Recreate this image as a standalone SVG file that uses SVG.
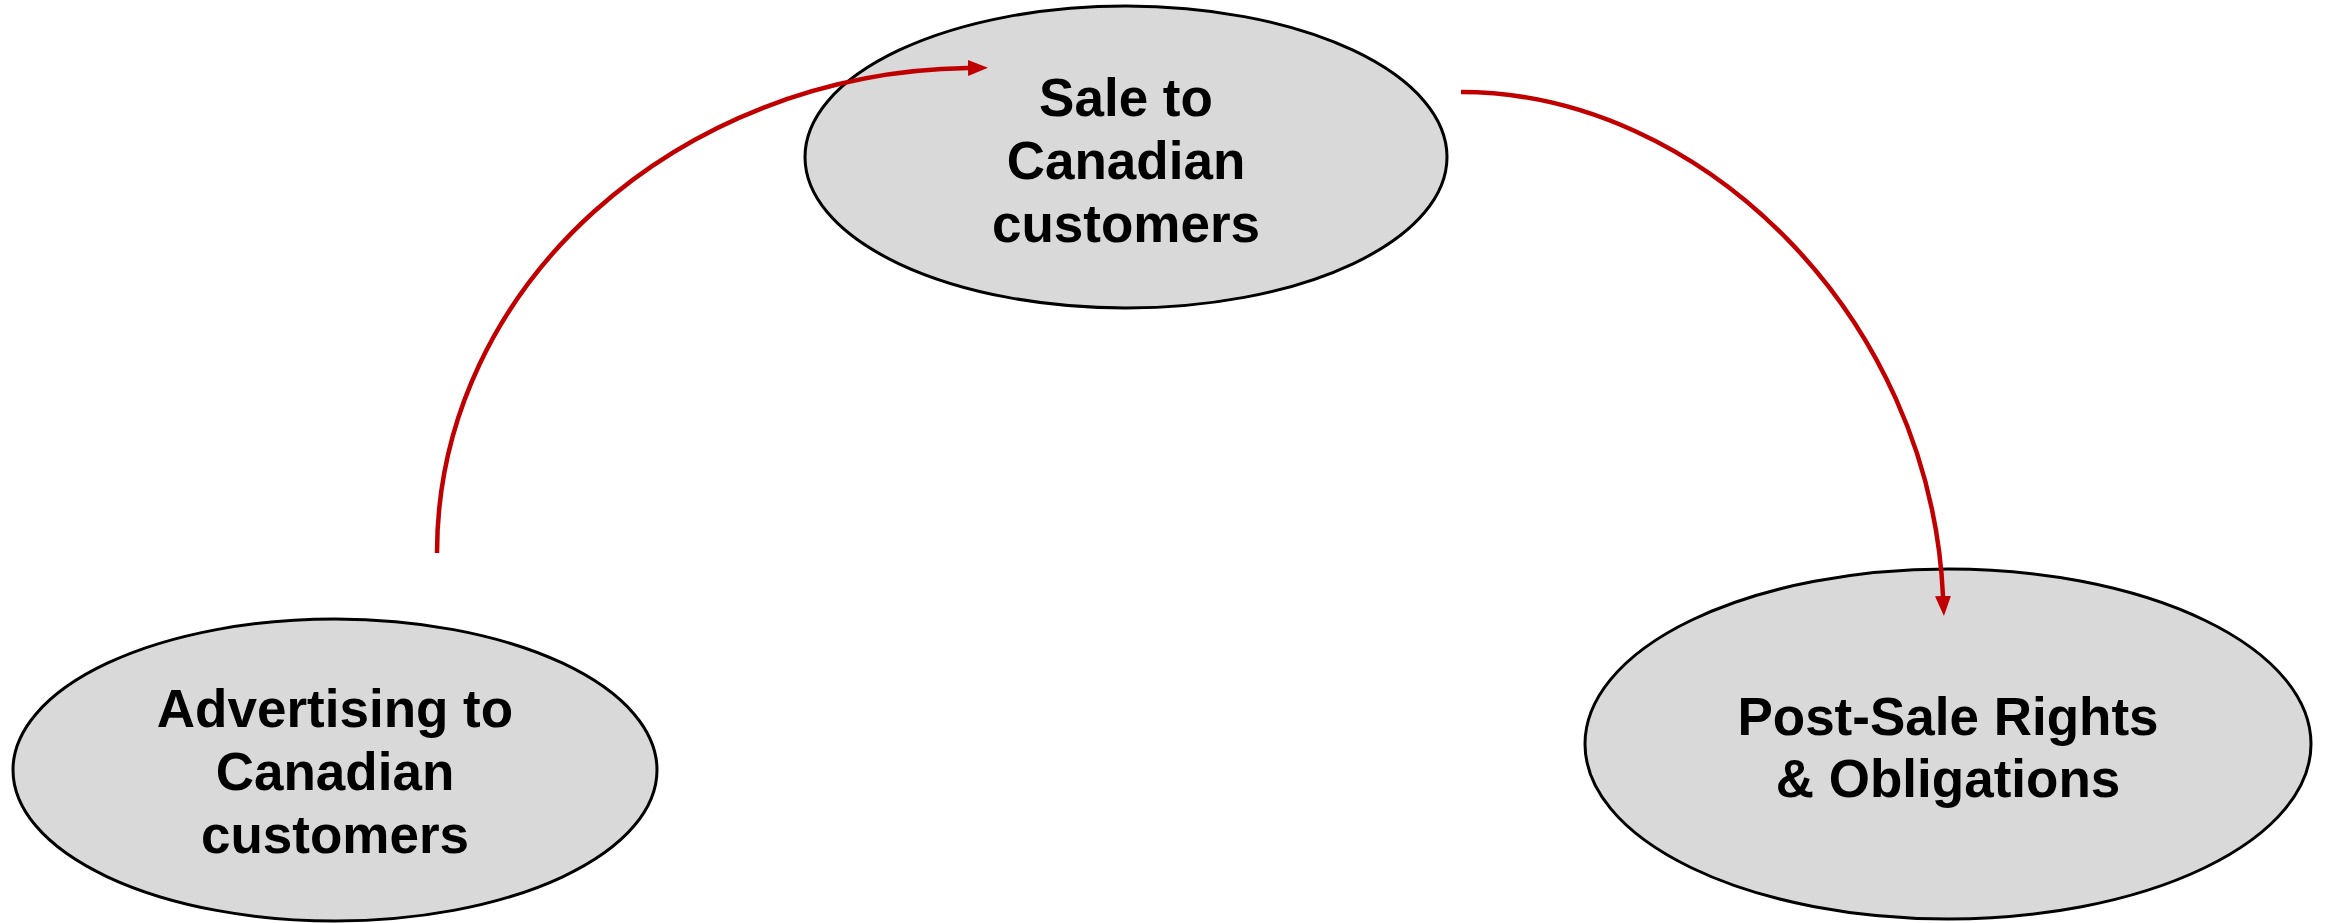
<svg xmlns="http://www.w3.org/2000/svg" width="2325" height="923" viewBox="0 0 2325 923">
<style>
.node{fill:#D9D9D9;stroke:#000;stroke-width:3}
.lbl{font-family:"Liberation Sans",Arial,sans-serif;font-weight:bold;font-size:53px;fill:#000;text-anchor:middle}
.conn{fill:none;stroke:#C00000;stroke-width:4.5}
</style>
<defs>
<marker id="ah" markerUnits="userSpaceOnUse" markerWidth="20" markerHeight="16" refX="0" refY="8" orient="auto">
<path d="M0,0 L20,8 L0,16 Z" fill="#C00000"/>
</marker>
</defs>
<rect width="2325" height="923" fill="#fff"/>
<g id="node-sale">
<ellipse class="node" cx="1126" cy="157" rx="321" ry="151"/>
<text class="lbl" x="1126" y="116">Sale to</text>
<text class="lbl" x="1126" y="179">Canadian</text>
<text class="lbl" x="1126" y="242">customers</text>
</g>
<g id="node-advertising">
<ellipse class="node" cx="335" cy="770" rx="322" ry="151"/>
<text class="lbl" x="335" y="727">Advertising to</text>
<text class="lbl" x="335" y="790">Canadian</text>
<text class="lbl" x="335" y="853">customers</text>
</g>
<g id="node-postsale">
<ellipse class="node" cx="1948" cy="744" rx="363" ry="175"/>
<text class="lbl" x="1948" y="735">Post-Sale Rights</text>
<text class="lbl" x="1948" y="797">&amp; Obligations</text>
</g>
<g id="connectors">
<path class="conn" d="M437,553 C437,285 679,72 968,68" marker-end="url(#ah)"/>
<path class="conn" d="M1461,92 C1700,92 1930,315 1943,596" marker-end="url(#ah)"/>
</g>
</svg>
